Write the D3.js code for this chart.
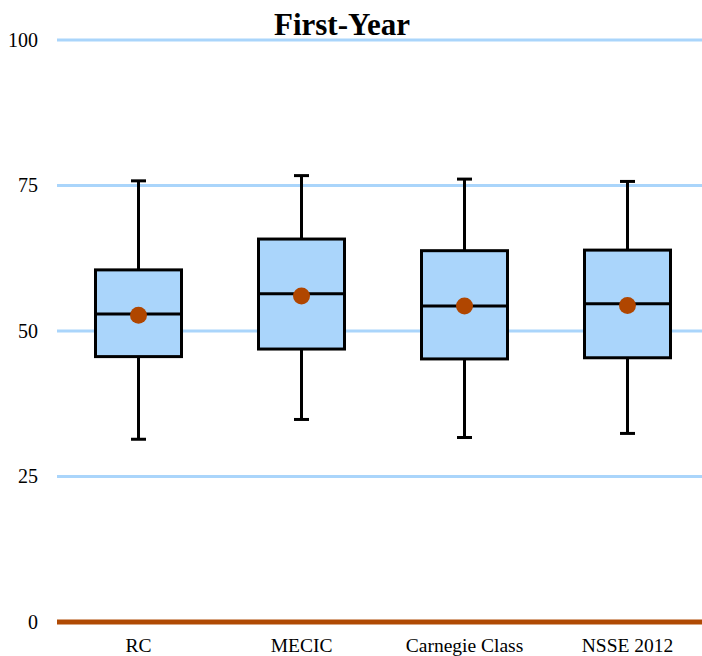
<!DOCTYPE html>
<html><head><meta charset="utf-8">
<script src="https://cdn.jsdelivr.net/npm/d3@7"></script>
<style>body{margin:0;background:#fff}</style>
</head><body>
<svg id="c" width="702" height="656"></svg>
<script>
const categories = ["RC","MECIC","Carnegie Class","NSSE 2012"];
const whiskerLow = [31.4, 34.8, 31.7, 32.4];
const q1 = [45.6, 46.9, 45.2, 45.4];
const median = [52.9, 56.4, 54.3, 54.7];
const q3 = [60.5, 65.8, 63.8, 63.9];
const whiskerHigh = [75.8, 76.7, 76.1, 75.7];
const means = [52.7, 56.0, 54.3, 54.4];
const yTicks = [0, 25, 50, 75, 100];
const title = "First-Year";

const svg = d3.select("#c");
const y = d3.scaleLinear().domain([0,100]).range([622,40]);
const x = d3.scaleBand().domain(categories).range([57,709]).padding(0);
const bw = 86, cap = 15;
const serif = "'Liberation Serif','Times New Roman',serif";

// gridlines
svg.append("g").selectAll("line").data(yTicks.filter(d=>d>0)).join("line")
  .attr("x1",57).attr("x2",709).attr("y1",d=>y(d)).attr("y2",d=>y(d))
  .attr("stroke","#aad5fb").attr("stroke-width",3);
// zero line
svg.append("line").attr("x1",57).attr("x2",709).attr("y1",y(0)).attr("y2",y(0))
  .attr("stroke","#b04a04").attr("stroke-width",5);

// y axis labels
const yAxis = d3.axisLeft(y).tickValues(yTicks).tickSize(0).tickPadding(0);
const ya = svg.append("g").attr("transform","translate(38,0)").call(yAxis)
  .attr("font-family",serif).attr("font-size",20);
ya.select(".domain").remove();
ya.selectAll("text").attr("fill","#000").attr("dy","0.32em");

// x labels
const xAxis = d3.axisBottom(x).tickSize(0).tickPadding(0);
const xa = svg.append("g").attr("transform","translate(0,652)").call(xAxis)
  .attr("font-family",serif).attr("font-size",19.5);
xa.select(".domain").remove();
xa.selectAll("text").attr("fill","#000").attr("dy","0").attr("y",0);

// boxes
const data = categories.map((c,i)=>({c,lo:whiskerLow[i],q1:q1[i],md:median[i],q3:q3[i],hi:whiskerHigh[i],mean:means[i]}));
const g = svg.append("g").selectAll("g").data(data).join("g")
  .attr("transform",d=>`translate(${x(d.c)+x.bandwidth()/2},0)`);
g.append("line").attr("x1",0).attr("x2",0).attr("y1",d=>y(d.hi)).attr("y2",d=>y(d.q3)).attr("stroke","#000").attr("stroke-width",3);
g.append("line").attr("x1",0).attr("x2",0).attr("y1",d=>y(d.q1)).attr("y2",d=>y(d.lo)).attr("stroke","#000").attr("stroke-width",3);
g.append("line").attr("x1",-cap/2).attr("x2",cap/2).attr("y1",d=>y(d.hi)).attr("y2",d=>y(d.hi)).attr("stroke","#000").attr("stroke-width",3);
g.append("line").attr("x1",-cap/2).attr("x2",cap/2).attr("y1",d=>y(d.lo)).attr("y2",d=>y(d.lo)).attr("stroke","#000").attr("stroke-width",3);
g.append("rect").attr("x",-bw/2).attr("width",bw).attr("y",d=>y(d.q3)).attr("height",d=>y(d.q1)-y(d.q3))
  .attr("fill","#aad5fb").attr("stroke","#000").attr("stroke-width",3);
g.append("line").attr("x1",-bw/2).attr("x2",bw/2).attr("y1",d=>y(d.md)).attr("y2",d=>y(d.md)).attr("stroke","#000").attr("stroke-width",3);
g.append("circle").attr("cx",0).attr("cy",d=>y(d.mean)).attr("r",8.5).attr("fill","#b04600");

// title
svg.append("text").attr("x",342).attr("y",35).attr("text-anchor","middle")
  .attr("font-family",serif).attr("font-weight","bold").attr("font-size",31).text(title);
</script>
</body></html>
